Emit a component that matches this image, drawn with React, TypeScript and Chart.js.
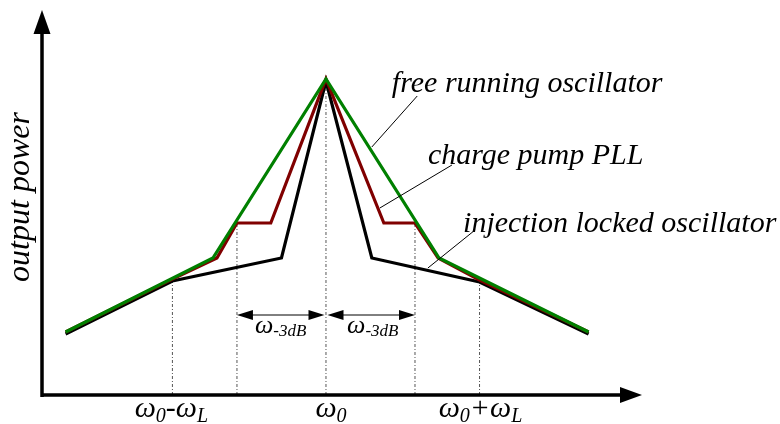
import React, { useEffect, useRef } from "react";
import { Chart, registerables } from "chart.js";

Chart.register(...registerables);

// Horizontal axis: frequency offset from ω0 (one ω-3dB band = 2 units).
// Vertical axis: relative output power (arbitrary units, 0 at the axis).
const W3DB = 2;
const WL = 3.45;
const X_MIN = -6.38;
const X_MAX = 7.1;
const Y_MAX = 38.5;

// free running oscillator
const freeX = [-5.85, -2.54, 0, 2.54, 5.9];
const freeY = [6.3, 13.7, 31.6, 13.7, 6.3];

// charge pump PLL
const pllX = [-5.85, -3.45, -2.45, -2.0, -1.24, 0, 1.3, 2.0, 2.52, 3.45, 5.9];
const pllY = [6.3, 11.6, 13.7, 17.2, 17.2, 31.6, 17.2, 17.2, 13.7, 11.5, 6.3];

// injection locked oscillator
const injX = [-5.85, -3.45, -1.0, 0, 1.03, 3.45, 5.9];
const injY = [6.1, 11.4, 13.7, 31.4, 13.7, 11.3, 6.1];

// dash-dot guides dropped from the curves to the frequency axis
const guideX = [-WL, -W3DB, 0, W3DB, WL];
const guideTop = [11.5, 17.2, 31.6, 17.2, 11.5];

// ω-3dB double arrows: from ω0-ω3dB to ω0 and from ω0 to ω0+ω3dB
const bandEdges = [-W3DB, 0, W3DB];
const bandArrowY = 8.0;

// leader lines from each caption to its curve
const leaderFromX = [2.05, 2.83, 3.35];
const leaderFromY = [29.9, 23.0, 16.5];
const leaderToX = [1.03, 1.21, 2.29];
const leaderToY = [24.8, 18.7, 12.7];

const seriesNames = ["free running oscillator", "charge pump PLL", "injection locked oscillator"];
const seriesColors = ["#008000", "#800000", "#000000"];

// frequency tick labels (main symbol + subscripts)
const tickValues = [-WL, 0, WL];

const FAMILY = "'Liberation Serif', 'Times New Roman', serif";

type Run = { t: string; size: number; dy?: number };

const tickLabels: Run[][] = [
  [
    { t: "ω", size: 30 },
    { t: "0", size: 20, dy: 5 },
    { t: "-", size: 30 },
    { t: "ω", size: 30 },
    { t: "L", size: 20, dy: 5 },
  ],
  [
    { t: "ω", size: 30 },
    { t: "0", size: 20, dy: 5 },
  ],
  [
    { t: "ω", size: 30 },
    { t: "0", size: 20, dy: 5 },
    { t: "+", size: 30 },
    { t: "ω", size: 30 },
    { t: "L", size: 20, dy: 5 },
  ],
];
const tickShift = [-1, 5, 1];

const bandLabel: Run[] = [
  { t: "ω", size: 26 },
  { t: "-3dB", size: 17, dy: 3 },
];

// caption anchors (left edge, baseline) in axis units
const captionAt = [
  { x: 1.48, y: 30.3 },
  { x: 2.29, y: 23.1 },
  { x: 3.08, y: 16.3 },
];

function runsWidth(ctx: CanvasRenderingContext2D, runs: Run[]) {
  let w = 0;
  for (const r of runs) {
    ctx.font = `italic ${r.size}px ${FAMILY}`;
    w += ctx.measureText(r.t).width;
  }
  return w;
}

function drawRuns(ctx: CanvasRenderingContext2D, runs: Run[], cx: number, baseline: number) {
  let x = cx - runsWidth(ctx, runs) / 2;
  ctx.textAlign = "left";
  ctx.textBaseline = "alphabetic";
  for (const r of runs) {
    ctx.font = `italic ${r.size}px ${FAMILY}`;
    ctx.fillText(r.t, x, baseline + (r.dy || 0));
    x += ctx.measureText(r.t).width;
  }
}

function arrowHead(ctx: CanvasRenderingContext2D, tipX: number, tipY: number, dx: number, dy: number, len: number, half: number) {
  // dx, dy: unit direction the head points to
  const bx = tipX - dx * len;
  const by = tipY - dy * len;
  ctx.beginPath();
  ctx.moveTo(tipX, tipY);
  ctx.lineTo(bx - dy * half, by + dx * half);
  ctx.lineTo(bx + dy * half, by - dx * half);
  ctx.closePath();
  ctx.fill();
}

const schematicPlugin = {
  id: "schematic",
  beforeDraw(chart: any) {
    const ctx: CanvasRenderingContext2D = chart.ctx;
    ctx.save();
    ctx.fillStyle = "#ffffff";
    ctx.fillRect(0, 0, chart.width, chart.height);
    ctx.restore();
  },
  afterDraw(chart: any) {
    const ctx: CanvasRenderingContext2D = chart.ctx;
    const xs = chart.scales.x;
    const ys = chart.scales.y;
    const x0 = xs.getPixelForValue(X_MIN);
    const x1 = xs.getPixelForValue(X_MAX);
    const y0 = ys.getPixelForValue(0);
    const y1 = ys.getPixelForValue(Y_MAX);

    ctx.save();
    ctx.fillStyle = "#000";
    ctx.strokeStyle = "#000";

    // axes with arrow heads
    ctx.lineWidth = 3.5;
    ctx.lineCap = "butt";
    ctx.beginPath();
    ctx.moveTo(x0, y0 + 2);
    ctx.lineTo(x0, y1 + 20);
    ctx.moveTo(x0 - 1.7, y0);
    ctx.lineTo(x1 - 18, y0);
    ctx.stroke();
    arrowHead(ctx, x0, y1, 0, -1, 24, 8.5);
    arrowHead(ctx, x1, y0, 1, 0, 22, 8);

    // ω-3dB double arrows
    const ay = ys.getPixelForValue(bandArrowY);
    ctx.lineWidth = 1;
    for (let i = 0; i < bandEdges.length - 1; i++) {
      const a = xs.getPixelForValue(bandEdges[i]) + (i === 1 ? 1.5 : 0);
      const b = xs.getPixelForValue(bandEdges[i + 1]) - (i === 0 ? 1.5 : 0);
      ctx.beginPath();
      ctx.moveTo(a + 4, ay);
      ctx.lineTo(b - 4, ay);
      ctx.stroke();
      arrowHead(ctx, a, ay, -1, 0, 16, 5);
      arrowHead(ctx, b, ay, 1, 0, 16, 5);
      drawRuns(ctx, bandLabel, (a + b) / 2 + (i === 1 ? 1.5 : 0), ay + 18);
    }

    // frequency labels
    for (let i = 0; i < tickValues.length; i++) {
      drawRuns(ctx, tickLabels[i], xs.getPixelForValue(tickValues[i]) + tickShift[i], y0 + 22);
    }

    // captions
    ctx.textAlign = "left";
    ctx.textBaseline = "alphabetic";
    ctx.font = `italic 30px ${FAMILY}`;
    for (let i = 0; i < seriesNames.length; i++) {
      ctx.fillText(seriesNames[i], xs.getPixelForValue(captionAt[i].x), ys.getPixelForValue(captionAt[i].y));
    }

    // vertical axis title
    ctx.save();
    ctx.translate(29, 197);
    ctx.rotate(-Math.PI / 2);
    ctx.textAlign = "center";
    ctx.font = `italic 32px ${FAMILY}`;
    ctx.fillText("output power", 0, 0);
    ctx.restore();

    ctx.restore();
  },
};

function pts(xv: number[], yv: number[]) {
  return xv.map((x, i) => ({ x, y: yv[i] }));
}

export default function App() {
  const canvasRef = useRef<HTMLCanvasElement | null>(null);

  useEffect(() => {
    if (!canvasRef.current) return;

    const curve = (idx: number, xv: number[], yv: number[]) => ({
      label: seriesNames[idx],
      data: pts(xv, yv),
      borderColor: seriesColors[idx],
      borderWidth: 3.2,
      pointRadius: 0,
      tension: 0,
      borderJoinStyle: "miter" as const,
      borderCapStyle: "butt" as const,
    });

    const guides = guideX.map((gx, i) => ({
      label: `guide ${i}`,
      data: [
        { x: gx, y: 0 },
        { x: gx, y: guideTop[i] },
      ],
      borderColor: "#555555",
      borderWidth: 1,
      borderDash: [3, 2, 1, 2],
      pointRadius: 0,
      tension: 0,
    }));

    const leaders = leaderFromX.map((lx, i) => ({
      label: `leader ${i}`,
      data: [
        { x: lx, y: leaderFromY[i] },
        { x: leaderToX[i], y: leaderToY[i] },
      ],
      borderColor: "#000000",
      borderWidth: 1,
      pointRadius: 0,
      tension: 0,
    }));

    const chart = new Chart(canvasRef.current, {
      type: "line",
      data: {
        datasets: [
          ...leaders,
          curve(0, freeX, freeY),
          curve(1, pllX, pllY),
          curve(2, injX, injY),
          ...guides,
        ] as any,
      },
      options: {
        responsive: false,
        animation: false,
        events: [],
        layout: { padding: { left: 42, right: 138, top: 10, bottom: 29 } },
        plugins: {
          legend: { display: false },
          tooltip: { enabled: false },
        },
        scales: {
          x: { type: "linear", min: X_MIN, max: X_MAX, display: false },
          y: { type: "linear", min: 0, max: Y_MAX, display: false },
        },
      },
      plugins: [schematicPlugin],
    });

    return () => chart.destroy();
  }, []);

  return (
    <div style={{ position: "fixed", left: 0, top: 0, width: 780, height: 424, background: "#fff" }}>
      <canvas ref={canvasRef} width={780} height={424} style={{ display: "block" }} />
    </div>
  );
}
